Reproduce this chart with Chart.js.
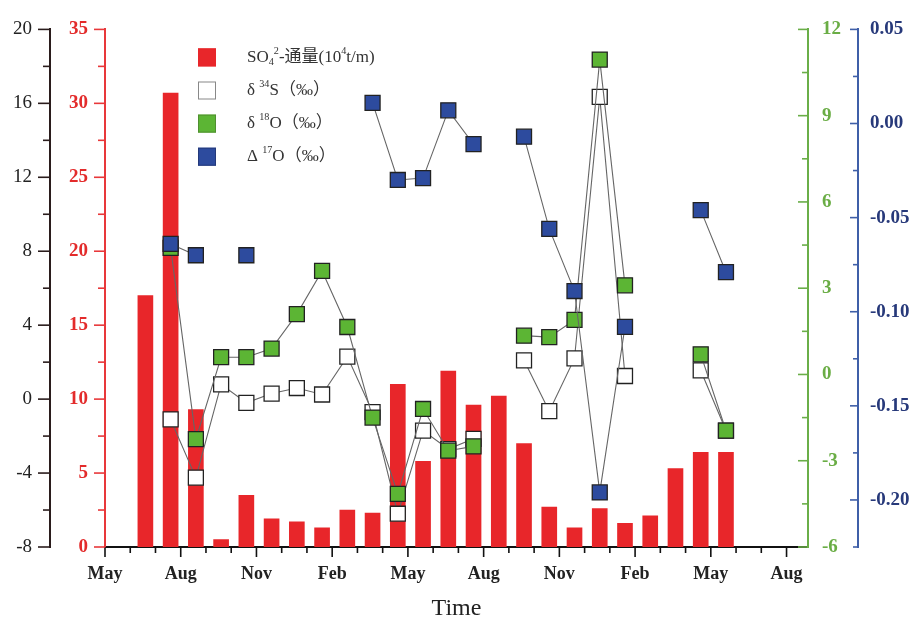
<!DOCTYPE html>
<html>
<head>
<meta charset="utf-8">
<script src="https://cdn.jsdelivr.net/npm/chart.js@4.4.0/dist/chart.umd.min.js"></script>
<style>
  html, body { margin: 0; padding: 0; background: #fff; }
</style>
</head>
<body>
<canvas id="chart" width="914" height="621"></canvas>
<script>
// Sampling time, in months counted from the first May on the axis
const sampleMonths = [1.6, 2.6, 3.6, 4.6, 5.6, 6.6, 7.6, 8.6, 9.6, 10.6, 11.6, 12.6,
                      13.6, 14.6, 15.6, 16.6, 17.6, 18.6, 19.6, 20.6, 21.6, 22.6, 23.6, 24.6];

// SO4 flux (10^4 t/month), red axis
const fluxValues = [17.0, 30.7, 9.3, 0.5, 3.5, 1.9, 1.7, 1.3, 2.5, 2.3, 11.0, 5.8,
                    11.9, 9.6, 10.2, 7.0, 2.7, 1.3, 2.6, 1.6, 2.1, 5.3, 6.4, 6.4];

// delta 34S (per mil), black left axis
const d34SValues = [null, -1.1, -4.25, 0.8, -0.2, 0.3, 0.6, 0.25, 2.3, -0.7, -6.2, -1.7,
                    -2.7, -2.15, null, 2.1, -0.65, 2.2, 16.35, 1.25, null, null, 1.55, -1.7];

// delta 18O (per mil), green axis
const d18OValues = [null, 4.4, -2.25, 0.6, 0.6, 0.9, 2.1, 3.6, 1.65, -1.5, -4.15, -1.2,
                    -2.65, -2.5, null, 1.35, 1.3, 1.9, 10.95, 3.1, null, null, 0.7, -1.95];

// capital delta 17O (per mil), blue axis
const D17OValues = [null, -0.064, -0.070, null, -0.070, null, null, null, null, 0.011, -0.030, -0.029,
                    0.007, -0.011, null, -0.007, -0.056, -0.089, -0.196, -0.108, null, null, -0.046, -0.079];

const monthLabels = ['May', 'Aug', 'Nov', 'Feb', 'May', 'Aug', 'Nov', 'Feb', 'May', 'Aug'];
const legendLabels = ['SO_{4}^{2}-通量(10^{4}t/m)', 'δ ^{34}S（‰）', 'δ ^{18}O（‰）', 'Δ ^{17}O（‰）'];

const serif = '"Liberation Serif", "Noto Sans CJK SC", serif';
const colors = {
  black: '#2a1c1c', red: '#e8383a', green: '#6aae48', blue: '#3f5fa8',
  redText: '#e32b2b', greenText: '#6aad45', blueText: '#27397a'
};
const fills = ['#e8262a', '#ffffff', '#5cb534', '#2d4b9e'];
const edges = ['#e8262a', '#888888', '#4f8f30', '#24397a'];

function pairs(values) {
  return sampleMonths.map((m, i) => ({ x: m, y: values[i] }));
}

// major / minor tick marks, drawn off the chart scales
const tickSpecs = [
  { id: 'x', min: 0, max: 27, minor: 1, major: 3, majorLen: 10, minorLen: 6, color: '#111' },
  { id: 'yS', min: -8, max: 20, minor: 2, major: 4, majorLen: 12, minorLen: 7, color: colors.black },
  { id: 'yFlux', min: 0, max: 35, minor: 2.5, major: 5, majorLen: 11, minorLen: 7, color: colors.red },
  { id: 'yO18', min: -6, max: 12, minor: 1.5, major: 3, majorLen: 10, minorLen: 6, color: colors.green },
  { id: 'yO17', min: -0.225, max: 0.05, minor: 0.025, major: 0.05, majorLen: 8, minorLen: 5, color: colors.blue }
];

const tickPlugin = {
  id: 'axisTicks',
  afterDraw(chart) {
    const ctx = chart.ctx;
    ctx.save();
    ctx.lineWidth = 1.6;
    tickSpecs.forEach(spec => {
      const s = chart.scales[spec.id];
      const n = Math.round((spec.max - spec.min) / spec.minor);
      ctx.strokeStyle = spec.color;
      for (let i = 0; i <= n; i++) {
        const v = spec.min + i * spec.minor;
        const r = v / spec.major;
        const len = Math.abs(r - Math.round(r)) < 1e-6 ? spec.majorLen : spec.minorLen;
        const p = s.getPixelForValue(v);
        ctx.beginPath();
        if (spec.id === 'x') {
          ctx.moveTo(p, s.top); ctx.lineTo(p, s.top + len);
        } else {
          const edge = s.position === 'left' ? s.right : s.left;
          ctx.moveTo(edge, p); ctx.lineTo(edge - len, p);
        }
        ctx.stroke();
      }
    });
    ctx.restore();
  }
};

function drawRich(ctx, text, x, y, size) {
  const re = /\^\{([^}]*)\}|_\{([^}]*)\}|([^^_]+)/g;
  let m;
  while ((m = re.exec(text))) {
    let t, dy = 0, s = size;
    if (m[1] !== undefined) { t = m[1]; s = size * 0.6; dy = -size * 0.35; }
    else if (m[2] !== undefined) { t = m[2]; s = size * 0.6; dy = size * 0.28; }
    else t = m[3];
    ctx.font = s + 'px ' + serif;
    ctx.fillText(t, x, y + dy);
    x += ctx.measureText(t).width;
  }
}

const legendPlugin = {
  id: 'boxLegend',
  afterDraw(chart) {
    const ctx = chart.ctx;
    const a = chart.chartArea;
    ctx.save();
    ctx.textBaseline = 'middle';
    legendLabels.forEach((label, i) => {
      const cy = a.top + 28 + i * 33.1;
      const bx = a.left + 93;
      ctx.fillStyle = fills[i];
      ctx.fillRect(bx, cy - 9, 18, 18);
      ctx.strokeStyle = edges[i];
      ctx.lineWidth = 1;
      ctx.strokeRect(bx + 0.5, cy - 8.5, 17, 17);
      ctx.fillStyle = '#333';
      drawRich(ctx, label, bx + 49, cy, 17);
    });
    ctx.restore();
  }
};

function yAxis(position, weight, min, max, step, color, textColor, bold, pad, width, fmt) {
  return {
    type: 'linear', position: position, weight: weight, min: min, max: max,
    grid: { display: false, drawTicks: false },
    border: { display: true, color: color, width: 2 },
    ticks: {
      stepSize: step, padding: pad, color: textColor,
      font: { family: serif, size: 19, weight: bold ? 'bold' : 'normal' },
      callback: fmt
    },
    afterFit: s => { s.width = width; }
  };
}

const lineStyle = {
  type: 'line', showLine: true, spanGaps: false, tension: 0,
  borderColor: '#666', borderWidth: 1.1,
  pointStyle: 'rect', pointRadius: 10.6, pointHoverRadius: 10.6,
  pointBorderColor: '#222', pointBorderWidth: 1.3
};

new Chart(document.getElementById('chart'), {
  type: 'bar',
  data: {
    datasets: [
      { label: 'SO4', data: pairs(fluxValues), yAxisID: 'yFlux', backgroundColor: fills[0],
        barThickness: 15, order: 4 },
      Object.assign({ label: 'd34S', data: pairs(d34SValues), yAxisID: 'yS',
        pointBackgroundColor: fills[1], order: 3 }, lineStyle),
      Object.assign({ label: 'd18O', data: pairs(d18OValues), yAxisID: 'yO18',
        pointBackgroundColor: fills[2], order: 2 }, lineStyle),
      Object.assign({ label: 'D17O', data: pairs(D17OValues), yAxisID: 'yO17',
        pointBackgroundColor: fills[3], order: 1 }, lineStyle)
    ]
  },
  options: {
    responsive: false,
    animation: false,
    devicePixelRatio: 1,
    layout: { padding: { top: 24, left: 0, right: 0, bottom: 0 } },
    plugins: { legend: { display: false }, tooltip: { enabled: false } },
    scales: {
      x: {
        type: 'linear', min: 0, max: 27.85, offset: false,
        grid: { display: false, drawTicks: false },
        border: { display: true, color: '#111', width: 2 },
        ticks: {
          autoSkip: false, maxRotation: 0, padding: 17, color: '#222',
          font: { family: serif, size: 18, weight: 'bold' },
          callback: v => monthLabels[Math.round(v / 3)]
        },
        afterBuildTicks: s => { s.ticks = monthLabels.map((l, i) => ({ value: i * 3 })); },
        title: {
          display: true, text: 'Time', color: '#222',
          font: { family: serif, size: 24, lineHeight: 1 }, padding: { top: 0, bottom: 0 }
        },
        afterFit: s => { s.height = 74; }
      },
      yFlux: yAxis('left', 0, 0, 35, 5, colors.red, colors.redText, true, 17, 55, v => v),
      yS: yAxis('left', 1, -8, 20, 4, colors.black, '#222', false, 18, 50, v => v),
      yO18: yAxis('right', 0, -6, 12, 3, colors.green, colors.greenText, true, 14, 50, v => v),
      yO17: yAxis('right', 1, -0.225, 0.05, 0.05, colors.blue, colors.blueText, true, 12, 56,
        v => { const r = v / 0.05; return Math.abs(r - Math.round(r)) < 1e-6 ? v.toFixed(2) : ''; })
    }
  },
  plugins: [tickPlugin, legendPlugin]
});
</script>
</body>
</html>
